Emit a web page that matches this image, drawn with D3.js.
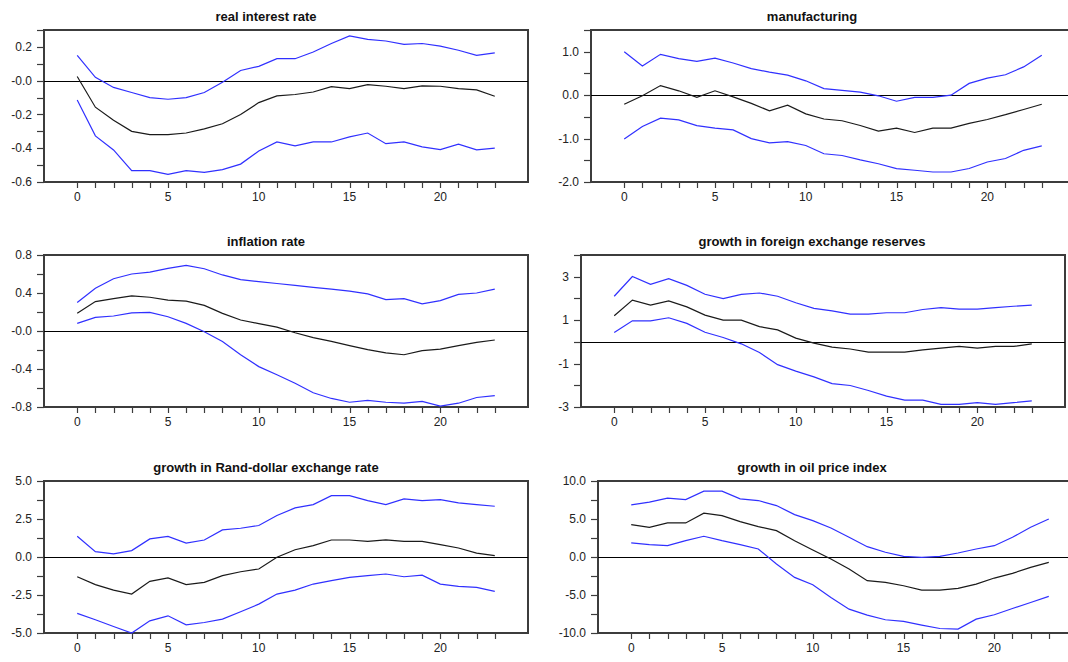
<!DOCTYPE html>
<html>
<head>
<meta charset="utf-8">
<script src="https://cdn.jsdelivr.net/npm/d3@7/dist/d3.min.js"></script>
<style>
  body { margin: 0; background: #ffffff; }
  svg { display: block; }
</style>
</head>
<body>
<svg id="chart" width="1068" height="662"></svg>
<script>
// impulse responses, periods 0..23
const periods = d3.range(0, 24);
const xTickLabels = [0, 5, 10, 15, 20];

const titles = [
    'real interest rate',
    'manufacturing',
    'inflation rate',
    'growth in foreign exchange reserves',
    'growth in Rand-dollar exchange rate',
    'growth in oil price index'
];

// real interest rate
const realRateUpper = [0.15, 0.02, -0.04, -0.07, -0.10, -0.11, -0.10, -0.07, -0.01, 0.06, 0.085, 0.13,
    0.13, 0.17, 0.22, 0.265, 0.245, 0.235, 0.215, 0.22, 0.205, 0.18, 0.15, 0.165];
const realRateMid = [0.025, -0.157, -0.235, -0.30, -0.32, -0.32, -0.31, -0.285, -0.255, -0.20, -0.13, -0.09,
    -0.082, -0.067, -0.035, -0.047, -0.024, -0.033, -0.047, -0.031, -0.033, -0.047, -0.055, -0.092];
const realRateLower = [-0.114, -0.327, -0.41, -0.533, -0.533, -0.555, -0.533, -0.543, -0.527, -0.494, -0.416, -0.363,
    -0.386, -0.363, -0.363, -0.333, -0.31, -0.373, -0.363, -0.392, -0.408, -0.376, -0.41, -0.40];

// manufacturing
const manufUpper = [1.0, 0.67, 0.94, 0.84, 0.78, 0.85, 0.74, 0.61, 0.53, 0.46, 0.33, 0.15,
    0.11, 0.07, -0.015, -0.14, -0.05, -0.05, 0.0, 0.27, 0.39, 0.47, 0.65, 0.92];
const manufMid = [-0.21, -0.015, 0.22, 0.10, -0.05, 0.10, -0.04, -0.19, -0.36, -0.23, -0.43, -0.55,
    -0.59, -0.70, -0.83, -0.76, -0.86, -0.76, -0.76, -0.65, -0.56, -0.45, -0.33, -0.21];
const manufLower = [-1.01, -0.72, -0.53, -0.57, -0.70, -0.76, -0.80, -1.0, -1.10, -1.07, -1.16, -1.35,
    -1.39, -1.49, -1.58, -1.69, -1.73, -1.77, -1.77, -1.69, -1.54, -1.46, -1.27, -1.17];

// inflation rate
const inflUpper = [0.30, 0.45, 0.55, 0.60, 0.62, 0.66, 0.69, 0.655, 0.59, 0.54, 0.52, 0.50,
    0.48, 0.46, 0.44, 0.42, 0.39, 0.33, 0.34, 0.285, 0.32, 0.385, 0.40, 0.44];
const inflMid = [0.186, 0.31, 0.34, 0.37, 0.355, 0.325, 0.315, 0.27, 0.186, 0.116, 0.077, 0.04,
    -0.018, -0.07, -0.11, -0.154, -0.196, -0.23, -0.25, -0.207, -0.19, -0.154, -0.12, -0.095];
const inflLower = [0.08, 0.144, 0.158, 0.19, 0.196, 0.15, 0.08, -0.007, -0.11, -0.25, -0.375, -0.46,
    -0.55, -0.65, -0.71, -0.75, -0.73, -0.75, -0.76, -0.74, -0.79, -0.76, -0.70, -0.68];

// growth in foreign exchange reserves
const reservesUpper = [2.10, 3.01, 2.65, 2.91, 2.60, 2.19, 1.99, 2.19, 2.25, 2.10, 1.80, 1.54,
    1.43, 1.28, 1.28, 1.34, 1.34, 1.49, 1.58, 1.51, 1.51, 1.58, 1.64, 1.69];
const reservesMid = [1.20, 1.92, 1.69, 1.89, 1.61, 1.23, 1.00, 1.00, 0.70, 0.55, 0.17, -0.06,
    -0.24, -0.33, -0.47, -0.47, -0.47, -0.37, -0.29, -0.21, -0.29, -0.21, -0.21, -0.09];
const reservesLower = [0.43, 0.97, 0.97, 1.11, 0.85, 0.44, 0.20, -0.09, -0.49, -1.05, -1.35, -1.61,
    -1.92, -2.01, -2.24, -2.50, -2.68, -2.68, -2.88, -2.88, -2.80, -2.88, -2.80, -2.72];

// growth in Rand-dollar exchange rate
const randUpper = [1.36, 0.35, 0.20, 0.42, 1.19, 1.36, 0.92, 1.12, 1.78, 1.89, 2.07, 2.73,
    3.23, 3.45, 4.04, 4.04, 3.71, 3.45, 3.82, 3.71, 3.78, 3.56, 3.45, 3.34];
const randMid = [-1.30, -1.82, -2.18, -2.44, -1.60, -1.38, -1.82, -1.67, -1.23, -0.97, -0.79, -0.02,
    0.48, 0.75, 1.12, 1.12, 1.03, 1.12, 1.03, 1.03, 0.81, 0.59, 0.26, 0.09];
const randLower = [-3.71, -4.13, -4.57, -5.0, -4.20, -3.87, -4.46, -4.31, -4.09, -3.60, -3.10, -2.44,
    -2.18, -1.78, -1.56, -1.34, -1.23, -1.12, -1.30, -1.19, -1.78, -1.93, -2.00, -2.26];

// growth in oil price index
const oilUpper = [6.86, 7.21, 7.74, 7.56, 8.66, 8.66, 7.65, 7.43, 6.77, 5.58, 4.79, 3.82,
    2.59, 1.36, 0.62, 0.09, -0.04, 0.09, 0.53, 1.05, 1.49, 2.59, 3.91, 5.01];
const oilMid = [4.26, 3.91, 4.48, 4.48, 5.76, 5.45, 4.66, 4.00, 3.47, 2.15, 0.92, -0.26,
    -1.58, -3.12, -3.34, -3.78, -4.35, -4.35, -4.13, -3.56, -2.77, -2.15, -1.36, -0.70];
const oilLower = [1.85, 1.63, 1.49, 2.15, 2.73, 2.15, 1.63, 1.05, -0.92, -2.68, -3.65, -5.32,
    -6.86, -7.65, -8.26, -8.48, -8.97, -9.41, -9.49, -8.18, -7.60, -6.77, -5.98, -5.19];

// y axis ranges, minor tick step and labelled ticks
const yDomains = [[-0.6, 0.3], [-2, 1.5], [-0.8, 0.8], [-3, 4], [-5, 5], [-10, 10]];
const yTickSteps = [0.1, 0.5, 0.2, 1, 1.25, 2.5];
const yTickLabels = [
    ['-0.6', '-0.4', '-0.2', '-0.0', '0.2'],
    ['-2.0', '-1.0', '0.0', '1.0'],
    ['-0.8', '-0.4', '-0.0', '0.4', '0.8'],
    ['-3', '-1', '1', '3'],
    ['-5.0', '-2.5', '0.0', '2.5', '5.0'],
    ['-10.0', '-5.0', '0.0', '5.0', '10.0']
];

const bands = [
    [realRateUpper, realRateMid, realRateLower],
    [manufUpper, manufMid, manufLower],
    [inflUpper, inflMid, inflLower],
    [reservesUpper, reservesMid, reservesLower],
    [randUpper, randMid, randLower],
    [oilUpper, oilMid, oilLower]
];

// frame placement of each panel (left, top) and title centre
const frames = [
    { left: 44, top: 30, titleX: 266 },
    { left: 591, top: 30, titleX: 812 },
    { left: 44, top: 255, titleX: 266 },
    { left: 581, top: 255, titleX: 812 },
    { left: 44, top: 481, titleX: 266 },
    { left: 598, top: 481, titleX: 812 }
];

const FRAME_W = 484;
const FRAME_H = 152;
const AXIS_COLOR = '#3c3c3c';
const TEXT_COLOR = '#222222';
const BLUE = '#3030ff';
const FONT = '"Liberation Sans", Arial, sans-serif';

const svg = d3.select('#chart');

frames.forEach((f, i) => {
    const g = svg.append('g')
        .attr('transform', `translate(${f.left},${f.top})`);

    const x = d3.scaleLinear()
        .domain([-1.83, 24.83])
        .range([0, FRAME_W]);

    const y = d3.scaleLinear()
        .domain(yDomains[i])
        .range([FRAME_H, 0]);

    // frame
    g.append('rect')
        .attr('x', 0)
        .attr('y', 0)
        .attr('width', FRAME_W)
        .attr('height', FRAME_H)
        .attr('fill', 'none')
        .attr('stroke', AXIS_COLOR)
        .attr('stroke-width', 1.3)
        .attr('shape-rendering', 'crispEdges');

    // y ticks
    const [lo, hi] = yDomains[i];
    const step = yTickSteps[i];
    const yTicks = d3.range(lo, hi + step / 2, step);
    g.selectAll('.ytick')
        .data(yTicks)
        .join('line')
        .attr('class', 'ytick')
        .attr('x1', -7)
        .attr('x2', 0)
        .attr('y1', d => Math.round(y(d)) + 0.5)
        .attr('y2', d => Math.round(y(d)) + 0.5)
        .attr('stroke', AXIS_COLOR)
        .attr('stroke-width', 1.2);

    g.selectAll('.ylabel')
        .data(yTickLabels[i])
        .join('text')
        .attr('class', 'ylabel')
        .attr('x', -12)
        .attr('y', d => y(+d))
        .attr('dy', '0.35em')
        .attr('text-anchor', 'end')
        .attr('font-family', FONT)
        .attr('font-size', 12)
        .attr('fill', TEXT_COLOR)
        .text(d => d);

    // x ticks
    g.selectAll('.xtick')
        .data(periods)
        .join('line')
        .attr('class', 'xtick')
        .attr('x1', d => Math.round(x(d)) + 0.5)
        .attr('x2', d => Math.round(x(d)) + 0.5)
        .attr('y1', FRAME_H)
        .attr('y2', FRAME_H + 6)
        .attr('stroke', AXIS_COLOR)
        .attr('stroke-width', 1.2);

    g.selectAll('.xlabel')
        .data(xTickLabels)
        .join('text')
        .attr('class', 'xlabel')
        .attr('x', d => x(d))
        .attr('y', FRAME_H + 15)
        .attr('dy', '0.35em')
        .attr('text-anchor', 'middle')
        .attr('font-family', FONT)
        .attr('font-size', 12)
        .attr('fill', TEXT_COLOR)
        .text(d => d);

    // zero line
    g.append('line')
        .attr('x1', 0)
        .attr('x2', FRAME_W)
        .attr('y1', Math.round(y(0)) + 0.5)
        .attr('y2', Math.round(y(0)) + 0.5)
        .attr('stroke', '#000000')
        .attr('stroke-width', 1.2);

    // response and confidence bands
    const line = d3.line()
        .x((d, j) => x(periods[j]))
        .y(d => y(d));

    const [upper, mid, lower] = bands[i];
    g.append('path').datum(upper)
        .attr('d', line)
        .attr('fill', 'none')
        .attr('stroke', BLUE)
        .attr('stroke-width', 1.2);
    g.append('path').datum(lower)
        .attr('d', line)
        .attr('fill', 'none')
        .attr('stroke', BLUE)
        .attr('stroke-width', 1.2);
    g.append('path').datum(mid)
        .attr('d', line)
        .attr('fill', 'none')
        .attr('stroke', '#1a1a1a')
        .attr('stroke-width', 1.2);

    // title
    svg.append('text')
        .attr('x', f.titleX)
        .attr('y', f.top - 14)
        .attr('dy', '0.35em')
        .attr('text-anchor', 'middle')
        .attr('font-family', FONT)
        .attr('font-size', 13)
        .attr('font-weight', 'bold')
        .attr('fill', '#111111')
        .text(titles[i]);
});
</script>
</body>
</html>
